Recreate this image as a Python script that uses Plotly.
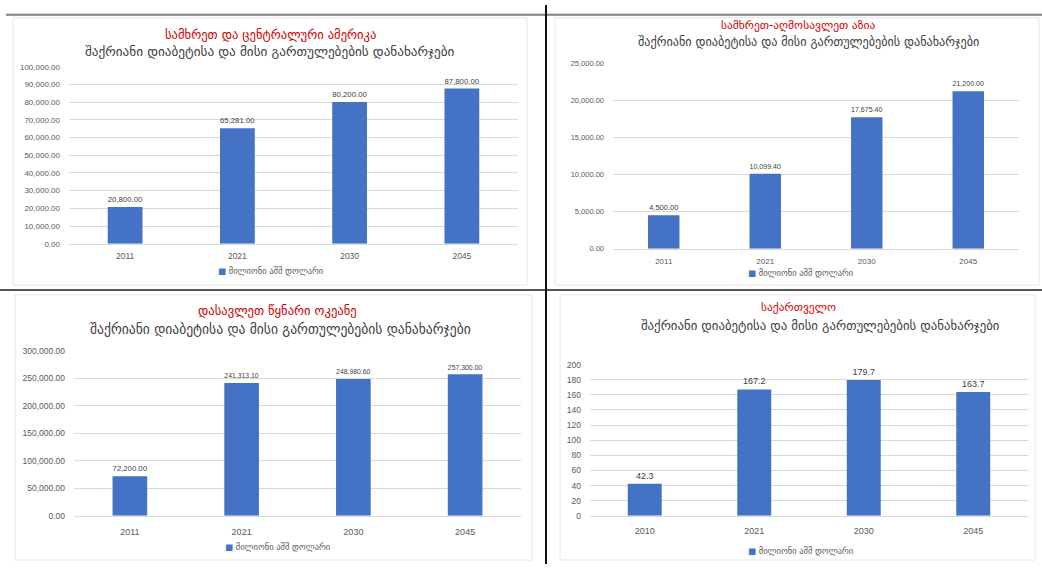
import plotly.graph_objects as go

W, H = 1042, 569

# ---------------- data ----------------
titles = ["სამხრეთ და ცენტრალური ამერიკა", "სამხრეთ-აღმოსავლეთ აზია",
          "დასავლეთ წყნარი ოკეანე", "საქართველო"]
subtitle = "შაქრიანი დიაბეტისა და მისი გართულებების დანახარჯები"
series_name = "მილიონი აშშ დოლარი"

years_1 = ["2011", "2021", "2030", "2045"]
values_1 = [20800.00, 65281.00, 80200.00, 87800.00]

years_2 = ["2011", "2021", "2030", "2045"]
values_2 = [4500.00, 10099.40, 17675.40, 21200.00]

years_3 = ["2011", "2021", "2030", "2045"]
values_3 = [72200.00, 241313.10, 248980.60, 257300.00]

years_4 = ["2010", "2021", "2030", "2045"]
values_4 = [42.3, 167.2, 179.7, 163.7]

# ---------------- layout helpers ----------------
def px(x):
    return x / W


def py(y):
    return 1 - y / H


BAR = "#4472C4"
TXT = "#595959"
GRID = "#D9D9D9"
TITLE_RED = "#D00000"
GEO_FONT = "DejaVu Sans"
NUM_FONT = "Liberation Sans"

panels = [
    dict(x=years_1, y=values_1, fmt="%{y:,.2f}", tfmt=",.2f", rng=[0, 100000], dtick=10000,
         xd=(69, 518), yd=(63, 243), title_xy=(270, 30), sub_xy=(270, 47), leg_xy=(270, 271),
         box=(13, 13, 527, 285), tick=8, lab=8.5, sub=13.2, tit=12.6, xstand=4),
    dict(x=years_2, y=values_2, fmt="%{y:,.2f}", tfmt=",.2f", rng=[0, 25000], dtick=5000,
         xd=(613, 1019), yd=(59, 248), title_xy=(798, 20), sub_xy=(808, 38), leg_xy=(800, 273),
         box=(555, 13, 1039, 285), tick=7.5, lab=7.5, sub=12.2, tit=11.5, xstand=5),
    dict(x=years_3, y=values_3, fmt="%{y:,.2f}", tfmt=",.2f", rng=[0, 300000], dtick=50000,
         xd=(74, 521), yd=(352, 520), title_xy=(277, 311), sub_xy=(280, 330), leg_xy=(277, 552),
         box=(15, 295, 532, 565), tick=8.5, lab=8.5, sub=13.6, tit=12.6, xstand=7),
    dict(x=years_4, y=values_4, fmt="%{y:.1f}", tfmt="d", rng=[0, 200], dtick=20,
         xd=(590, 1028), yd=(366, 520), title_xy=(798, 307), sub_xy=(820, 326), leg_xy=(800, 556),
         box=(560, 295, 1035, 565), tick=8.5, lab=9, sub=12.8, tit=11.5, xstand=6),
]

fig = go.Figure()
layout = dict(
    width=W, height=H, margin=dict(l=0, r=0, t=0, b=0),
    paper_bgcolor="white", plot_bgcolor="white",
    bargap=0.69, showlegend=False,
    annotations=[], shapes=[],
)

for i, p in enumerate(panels, start=1):
    sfx = "" if i == 1 else str(i)
    fig.add_trace(go.Bar(
        x=p["x"], y=p["y"], name=series_name,
        xaxis=f"x{sfx}", yaxis=f"y{sfx}",
        marker=dict(color=BAR, line=dict(width=0)),
        texttemplate=p["fmt"], textposition="outside", cliponaxis=False,
        textfont=dict(family=NUM_FONT, size=p["lab"], color="#404040"),
    ))
    layout[f"xaxis{sfx}"] = dict(
        domain=[px(p["xd"][0]), px(p["xd"][1])], anchor=f"y{sfx}",
        type="category", showgrid=False, showline=True, linecolor=GRID, linewidth=1,
        ticks="", ticklabelstandoff=p["xstand"],
        tickfont=dict(family=NUM_FONT, size=p["tick"] + 0.5, color=TXT),
        fixedrange=True,
    )
    layout[f"yaxis{sfx}"] = dict(
        domain=[py(p["yd"][1]), py(p["yd"][0])], anchor=f"x{sfx}",
        range=p["rng"], dtick=p["dtick"], tick0=0, tickformat=p["tfmt"],
        showgrid=True, gridcolor=GRID, gridwidth=1, zeroline=False, showline=False,
        ticks="", ticklabelstandoff=8,
        tickfont=dict(family=NUM_FONT, size=p["tick"], color=TXT),
        fixedrange=True,
    )
    # legend (series name with small square key)
    layout["annotations"].append(dict(
        x=px(p["leg_xy"][0]), y=py(p["leg_xy"][1]), xref="paper", yref="paper",
        text=f'<span style="color:{BAR}">■</span> {series_name}', showarrow=False,
        xanchor="center", yanchor="middle",
        font=dict(family=GEO_FONT, size=8.5, color=TXT),
    ))
    layout["annotations"].append(dict(
        x=px(p["title_xy"][0]), y=py(p["title_xy"][1]), xref="paper", yref="paper",
        text=titles[i - 1], showarrow=False, xanchor="center", yanchor="middle",
        font=dict(family=GEO_FONT, size=p["tit"], color=TITLE_RED),
    ))
    layout["annotations"].append(dict(
        x=px(p["sub_xy"][0]), y=py(p["sub_xy"][1]), xref="paper", yref="paper",
        text=subtitle, showarrow=False, xanchor="center", yanchor="middle",
        font=dict(family=GEO_FONT, size=p["sub"], color="#404040"),
    ))
    x0, y0, x1, y1 = p["box"]
    layout["shapes"].append(dict(
        type="rect", xref="paper", yref="paper",
        x0=px(x0), x1=px(x1), y0=py(y1), y1=py(y0),
        line=dict(color="#E6E6E6", width=1), fillcolor="rgba(0,0,0,0)", layer="below",
    ))

# outer table lines
layout["shapes"] += [
    dict(type="line", xref="paper", yref="paper", x0=px(6), x1=1, y0=py(10), y1=py(10),
         line=dict(color="#7F7F7F", width=2)),
    dict(type="line", xref="paper", yref="paper", x0=0, x1=1, y0=py(290), y1=py(290),
         line=dict(color="#555555", width=2)),
    dict(type="line", xref="paper", yref="paper", x0=px(546), x1=px(546), y0=0, y1=1,
         line=dict(color="#111111", width=2)),
]

fig.update_layout(**layout)
fig.write_html("out.html")
